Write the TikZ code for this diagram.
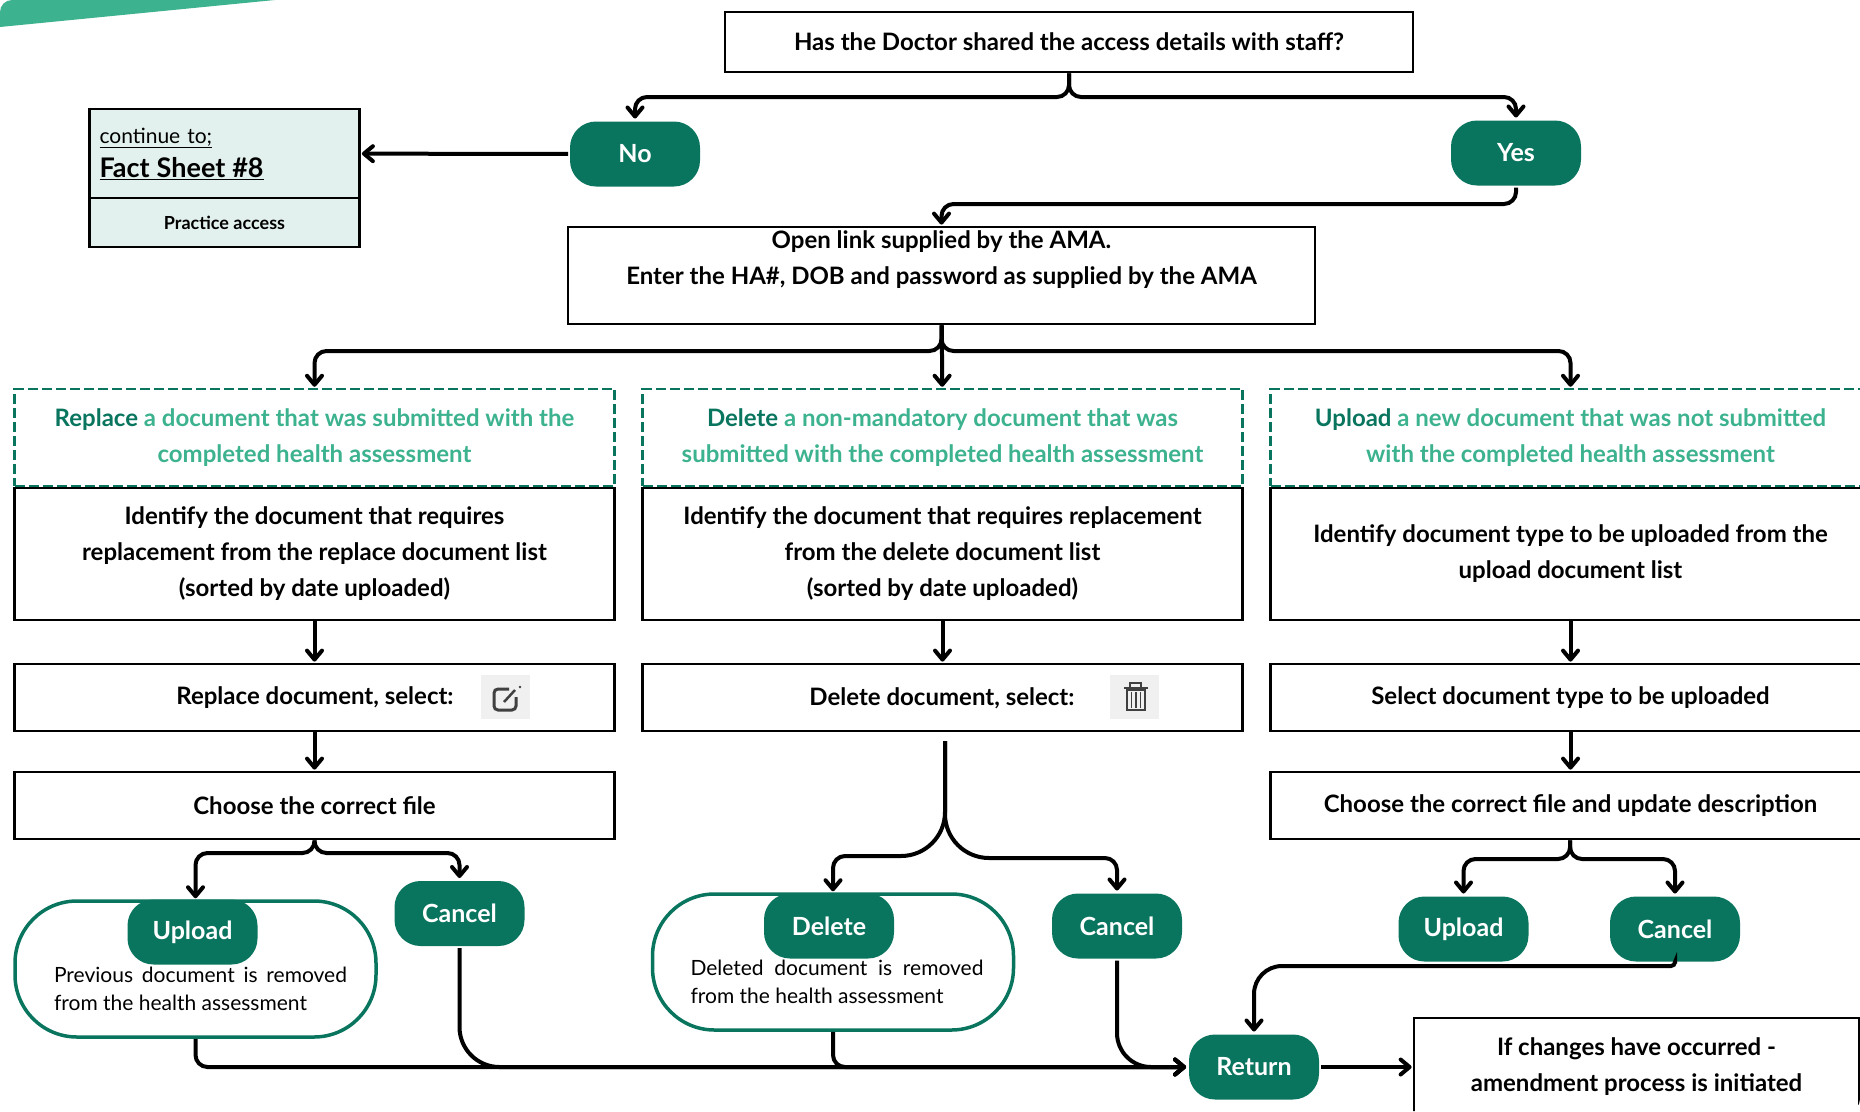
\documentclass[tikz,border=0pt]{standalone}
\usepackage{fontspec}
\setmainfont{Lato}
\usetikzlibrary{arrows.meta}
\definecolor{amaGreen}{HTML}{0A755E}
\definecolor{amaLight}{HTML}{3DB28F}
\definecolor{amaPale}{HTML}{E2F1ED}
\definecolor{iconGrey}{HTML}{F0F0F0}
\definecolor{iconDark}{HTML}{404040}

\begin{document}
\begin{tikzpicture}[->,>={Straight Barb[length=9pt,width=15pt,round]},shorten >=1pt,
                  x=1pt,y=-1pt,line width=4pt,rounded corners=12pt,
                  node distance=628pt,
                  base/.style={rectangle,sharp corners,align=center,inner sep=0pt,
                     font=\fontsize{24}{36}\selectfont\bfseries},
                  flowbox/.style={base,draw=black,line width=2.8pt,fill=white,minimum width=600pt},
                  headbox/.style={base,draw=amaGreen,line width=2.5pt,dash pattern=on 10pt off 4pt,
                     text=amaLight,minimum width=600pt,minimum height=97pt},
                  pill/.style={base,fill=amaGreen,text=white,rounded corners=26pt,
                     minimum width=130pt,minimum height=65pt,font=\fontsize{25}{30}\selectfont\bfseries},
                  outcome/.style={base,draw=amaGreen,line width=3.5pt,fill=white,rounded corners=62pt,
                     minimum width=361pt,minimum height=136pt},
                  note/.style={base,text width=293pt,align=justify,
                     font=\fontsize{21}{28.5}\selectfont},
                  factbox/.style={base,draw=black,line width=2.8pt,fill=amaPale,minimum width=270pt},
                  iconback/.style={base,fill=iconGrey,minimum width=49pt,minimum height=44pt},
                  iconline/.style={-,draw=iconDark,shorten >=0pt,sharp corners,line width=2pt}]

                  \useasboundingbox (0,0) rectangle (1860,1111);
                  \clip (0,0) rectangle (1860,1111);
                  \fill[amaLight,sharp corners] (0,0) -- (275,0) -- (0,27) -- cycle;

                  % Top of the chart.
                  \node[flowbox, minimum width=688pt, minimum height=60pt] (question) at (1069,42)
                  {Has the Doctor shared the access details with staff?};
                  \node[pill] (no) at (635,154) {No};
                  \node[pill] (yes) at (1516,153) {Yes};
                  \node[factbox, minimum height=89pt, text width=250pt, align=left,
                  font=\fontsize{21}{34}\selectfont] (factTop) at (224.5,153.5)
                  {\underline{continue to;}\\ {\fontsize{27}{34}\selectfont\bfseries\underline{Fact Sheet \#8}}};
                  \node[factbox, minimum height=49pt, font=\fontsize{18}{22}\selectfont\bfseries,
                  below of=factTop, node distance=69pt] (factBottom) {Practice access};
                  \node[flowbox, minimum width=747pt, minimum height=97pt] (openLink) at (941.5,275.5)
                  {Open link supplied by the AMA.\\Enter the HA\#, DOB and password as supplied by the AMA\\[0pt]};

                  % The three columns.
                  \node[headbox] (replaceHead) at (314.5,437.5)
                  {{\color{amaGreen}Replace} a document that was submitted with the\\completed health assessment};
                  \node[headbox, right of=replaceHead] (deleteHead)
                  {{\color{amaGreen}Delete} a non-mandatory document that was\\submitted with the completed health assessment};
                  \node[headbox, right of=deleteHead] (uploadHead)
                  {{\color{amaGreen}Upload} a new document that was not submitted\\with the completed health assessment};

                  \node[flowbox, minimum height=132pt, below of=replaceHead, node distance=116.5pt] (replaceFind)
                  {Identify the document that requires\\replacement from the replace document list\\(sorted by date uploaded)};
                  \node[flowbox, minimum height=132pt, right of=replaceFind] (deleteFind)
                  {Identify the document that requires replacement\\from the delete document list\\(sorted by date uploaded)};
                  \node[flowbox, minimum height=132pt, right of=deleteFind] (uploadFind)
                  {Identify document type to be uploaded from the\\upload document list};

                  \node[flowbox, minimum height=67pt, below of=replaceFind, node distance=143.5pt] (replaceSelect) {};
                  \node[flowbox, minimum height=67pt, right of=replaceSelect] (deleteSelect) {};
                  \node[flowbox, minimum height=67pt, right of=deleteSelect] (uploadSelect)
                  {Select document type to be uploaded};
                  \node[base] (replaceLabel) at (315,698) {Replace document, select:};
                  \node[base] (deleteLabel) at (942,698) {Delete document, select:};
                  \node[iconback] (editIcon) at (505.5,697) {};
                  \node[iconback] (binIcon) at (1134,697) {};

                  \node[flowbox, minimum height=67pt, below of=replaceSelect, node distance=108pt] (replaceFile)
                  {Choose the correct file};
                  \node[flowbox, minimum height=67pt, below of=uploadSelect, node distance=108pt] (uploadFile)
                  {Choose the correct file and update description};

                  % The icons.
                  \draw[iconline, line width=3pt, rounded corners=4pt] (509,689) -| (494,710) -| (516,697);
                  \draw[iconline, line width=2.5pt] (504,702) -- (515,690);
                  \fill[iconDark, sharp corners] (520,687) circle (1.3pt);
                  \draw[iconline] (1124,688) -- (1148,688);
                  \draw[iconline] (1130,688) |- (1141,682.5) -- (1141,688);
                  \draw[iconline] (1127,690) rectangle (1145,710);
                  \foreach \stripe in {1131.5,1136,1140.5}
                     \draw[iconline, line width=1.2pt] (\stripe,692) -- (\stripe,708);

                  % Buttons at the foot of each column.
                  \node[outcome] (replaceDone) at (195.5,969) {};
                  \node[pill] (uploadA) at (192.5,932) {Upload};
                  \node[pill] (cancelA) at (459.5,913.5) {Cancel};
                  \node[note] (replaceNote) at (200.5,989) {Previous document is removed from the health assessment};
                  \node[outcome] (deleteDone) at (833,962) {};
                  \node[pill] (deleteB) at (829,926) {Delete};
                  \node[pill] (cancelB) at (1117,926) {Cancel};
                  \node[note] (deleteNote) at (837,982) {Deleted document is removed from the health assessment};
                  \node[pill] (uploadC) at (1463.5,929) {Upload};
                  \node[pill] (cancelC) at (1675,929) {Cancel};
                  \node[pill] (return) at (1254,1067) {Return};
                  \node[flowbox, minimum width=445pt, minimum height=98pt] (amend) at (1636.5,1067)
                  {If changes have occurred -\\amendment process is initiated};

                  % Fork points of the connectors.
                  \coordinate (forkTop) at (1069,97);
                  \coordinate (forkYes) at (1516,204);
                  \coordinate (forkLink) at (941.5,351);
                  \coordinate (forkA) at (314.5,853);
                  \coordinate (deleteStart) at (945,741);
                  \coordinate (forkLeftB) at (945,856);
                  \coordinate (forkRightB) at (945,858);
                  \coordinate (forkC) at (1570,859);
                  \coordinate (mergeC) at (1254,966);

                  % Connectors.
                  \draw (question) -- (forkTop) -| (no);
                  \draw (question) -- (forkTop) -| (yes);
                  \draw (no) -- (factTop);
                  \draw (yes) -- (forkYes) -| (openLink);
                  \draw (openLink) -- (forkLink) -| (replaceHead);
                  \draw (openLink) -- (deleteHead);
                  \draw (openLink) -- (forkLink) -| (uploadHead);
                  \draw (replaceFind) -- (replaceSelect);
                  \draw (deleteFind) -- (deleteSelect);
                  \draw (uploadFind) -- (uploadSelect);
                  \draw (replaceSelect) -- (replaceFile);
                  \draw (uploadSelect) -- (uploadFile);
                  \draw (replaceFile) -- (forkA) -| (replaceDone);
                  \draw (replaceFile) -- (forkA) -| (cancelA);
                  \draw[rounded corners=44pt] (deleteStart) -- (forkLeftB) [rounded corners=12pt] -| (deleteDone);
                  \draw[rounded corners=44pt] (deleteStart) -- (forkRightB) [rounded corners=12pt] -| (cancelB);
                  \draw (uploadFile) -- (forkC) -| (uploadC);
                  \draw (uploadFile) -- (forkC) -| (cancelC);
                  \draw[-, sharp corners] (uploadC) -- (uploadC |- mergeC);
                  \draw[rounded corners=4pt] (cancelC.south) |- (uploadC |- mergeC) [rounded corners=28pt] -- (mergeC) -- (return);
                  \draw (replaceDone) |- (return);
                  \draw[rounded corners=40pt] (cancelA) |- (return);
                  \draw (deleteDone) |- (return);
                  \draw[rounded corners=34pt] (cancelB) |- (return);
                  \draw (return) -- (amend);

                \end{tikzpicture}
\end{document}
